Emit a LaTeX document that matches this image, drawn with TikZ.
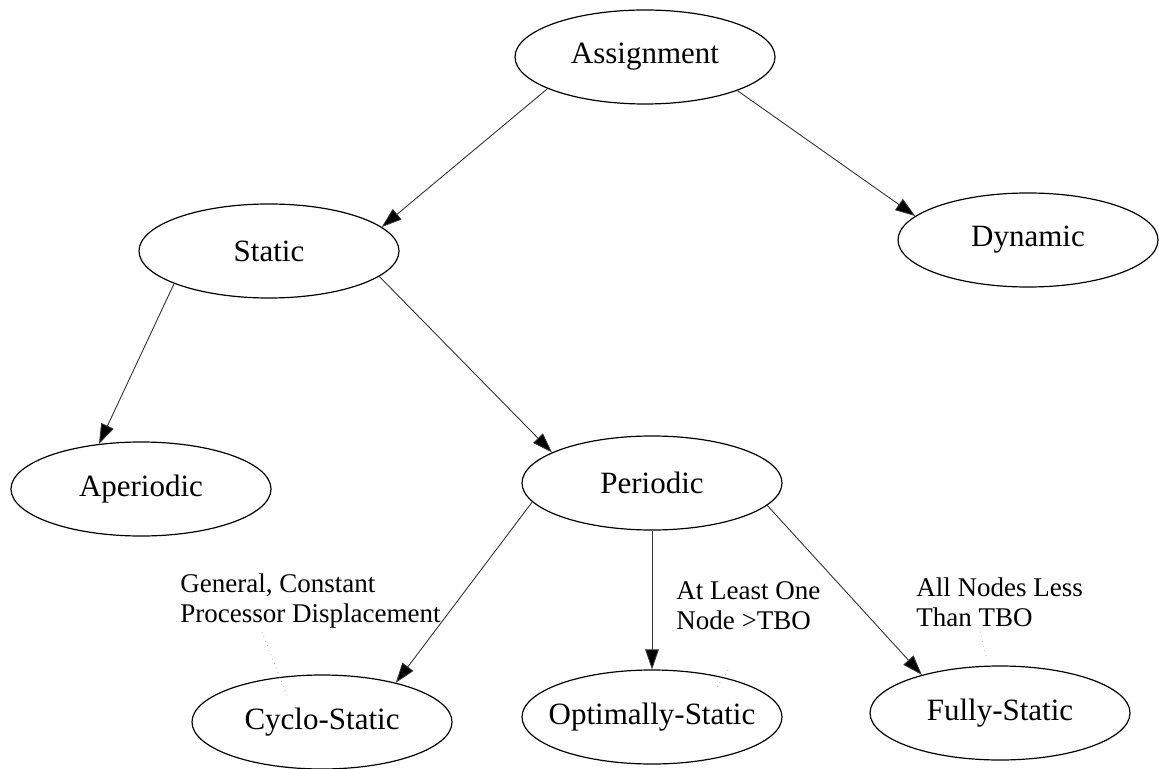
\documentclass[tikz,border=0pt]{standalone}
\usepackage{fontspec}
\setmainfont{Liberation Serif}
\usetikzlibrary{shapes.geometric,arrows.meta}
\begin{document}
\begin{tikzpicture}[x=0.5pt,y=-0.5pt,
  ell/.style={draw, ellipse, line width=0.6pt, minimum width=130pt, minimum height=47pt,
    inner sep=0pt, font=\fontsize{15.5}{18}\selectfont},
  edge/.style={line width=0.45pt, black!80, -{Triangle[length=10pt,width=6.8pt,fill=black]}},
  lbl/.style={align=left, anchor=west, inner sep=0pt, font=\fontsize{13.5}{15}\selectfont},
  leader/.style={black!35, dotted, line width=0.4pt}]
\useasboundingbox (0,0) rectangle (1159,769);
% nodes
\node[ell] (asg) at (645,57) {\makebox[0pt]{Assignment}};
\node[ell] (sta) at (269,251) {\makebox[0pt]{Static}};
\node[ell] (dyn) at (1028,240) {\makebox[0pt]{Dynamic}};
\node[ell] (ape) at (141,489) {\makebox[0pt]{Aperiodic}};
\node[ell] (per) at (652,483) {\makebox[0pt]{Periodic}};
\node[ell] (cyc) at (322,722) {\makebox[0pt]{Cyclo-Static}};
\node[ell] (opt) at (652,717) {\makebox[0pt]{Optimally-Static}};
\node[ell] (ful) at (1000,713) {\makebox[0pt]{Fully-Static}};
% labels
\node[lbl] (lcy) at (180,601) {General, Constant\\Processor Displacement};
\node[lbl] (lop) at (676,606) {At Least One\\Node >TBO};
\node[lbl] (lfu) at (916,602) {All Nodes Less\\Than TBO};
% edges
\draw[edge] (asg.198) -- (sta.12.5);
\draw[edge] (asg.340.7) -- (dyn.168.5);
\draw[edge] (sta.199.5) -- (ape.133.8);
\draw[edge] (sta.347.9) -- (per.163.9);
\draw[edge] (per.189.5) -- (cyc.28.1);
\draw[edge] (per.south) -- (opt.north);
\draw[edge] (per.349.2) -- (ful.154.4);
% faint leader lines
\coordinate (lc1) at (262,632); \coordinate (lc2) at (288,698);
\coordinate (lo1) at (728,670); \coordinate (lo2) at (715,690);
\coordinate (lf1) at (979,627); \coordinate (lf2) at (987,660);
\draw[leader] (lc1) -- (lc2);
\draw[leader] (lo1) -- (lo2);
\draw[leader] (lf1) -- (lf2);
\end{tikzpicture}
\end{document}
